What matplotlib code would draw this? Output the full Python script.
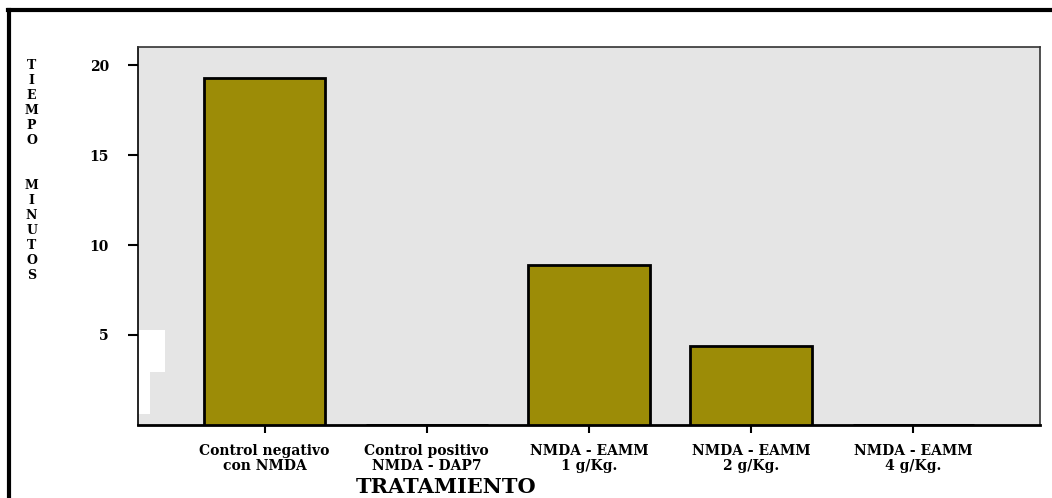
import matplotlib.pyplot as plt
from matplotlib.patches import Rectangle
from matplotlib.lines import Line2D

# Data
categories = ['Control negativo\ncon NMDA', 'Control positivo\nNMDA - DAP7',
              'NMDA - EAMM\n1 g/Kg.', 'NMDA - EAMM\n2 g/Kg.', 'NMDA - EAMM\n4 g/Kg.']
tiempo = [19.3, 0.0, 8.9, 4.4, 0.0]
yticks = [5, 10, 15, 20]

plt.rcParams['font.family'] = ['DejaVu Serif']
plt.rcParams['font.weight'] = 'bold'

fig = plt.figure(figsize=(10.52, 4.98), dpi=100)
ax = fig.add_axes([0.1312, 0.1466, 0.8574, 0.759])
ax.set_facecolor('#e5e5e5')

x = range(len(categories))
ax.bar(x, tiempo, width=0.75, color='#9c8c07', edgecolor='black', linewidth=2, zorder=3)

ax.set_xlim(-0.78, 4.78)
ax.set_ylim(0, 21)
ax.set_yticks(yticks)
ax.set_yticklabels([str(t) for t in yticks], fontsize=10, fontweight='bold')
ax.tick_params(axis='y', length=7, width=1.5, pad=14)
ax.set_xticks(list(x))
ax.set_xticklabels(categories, fontsize=10, fontweight='bold', linespacing=1.05)
ax.tick_params(axis='x', length=6, width=1.5, pad=8)

for s in ['top', 'right']:
    ax.spines[s].set_color('#333333')
    ax.spines[s].set_linewidth(1.2)
ax.spines['left'].set_linewidth(1.2)
ax.spines['bottom'].set_linewidth(2)

# white scanning artefacts at the lower left of the plot area
ax.add_patch(Rectangle((0, 0.14), 0.03, 0.11, transform=ax.transAxes,
                       facecolor='white', edgecolor='none', zorder=2))
ax.add_patch(Rectangle((0, 0.03), 0.013, 0.12, transform=ax.transAxes,
                       facecolor='white', edgecolor='none', zorder=2))

ax.set_xlabel('TRATAMIENTO', fontsize=15, fontweight='bold')
ax.xaxis.set_label_coords(0.341, -0.138)

ylab = '\n'.join('TIEMPO') + '\n\n\n' + '\n'.join('MINUTOS')
fig.text(0.030, 0.882, ylab, fontsize=9, fontweight='bold', ha='center', va='top',
         linespacing=1.2)

# outer frame
fig.add_artist(Line2D([0.008, 1.0], [0.98, 0.98], transform=fig.transFigure,
                      color='black', linewidth=3))
fig.add_artist(Line2D([0.009, 0.009], [0.0, 0.98], transform=fig.transFigure,
                      color='black', linewidth=3))

plt.savefig('out.png', dpi=100)
